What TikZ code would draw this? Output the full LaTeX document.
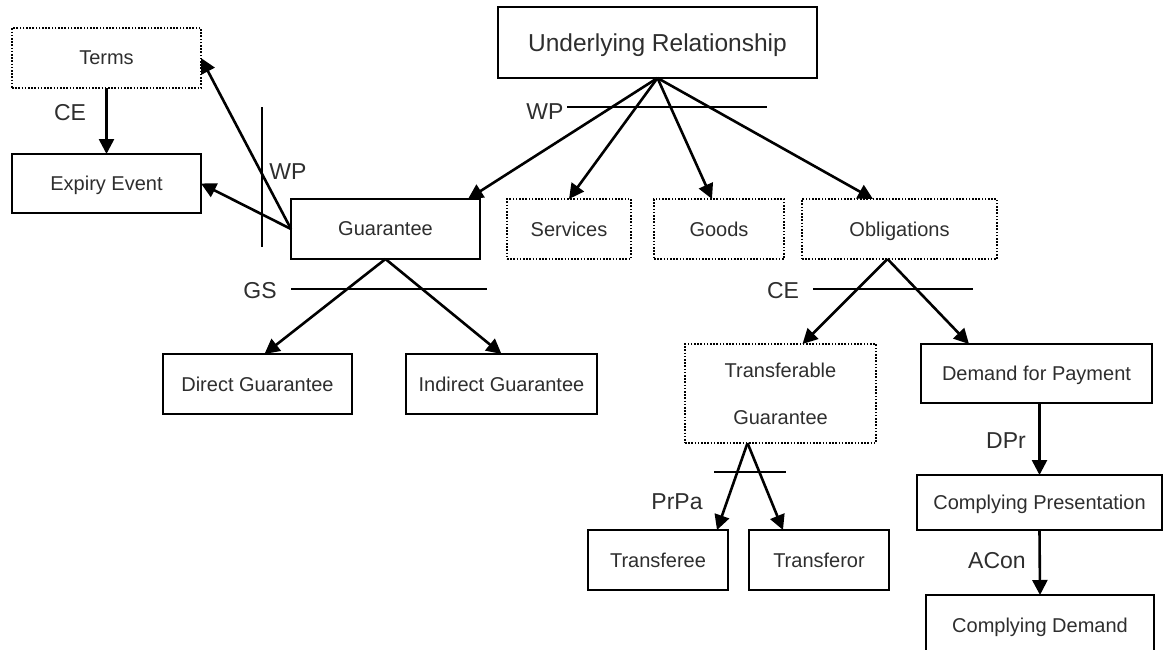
\documentclass[tikz,border=0pt]{standalone}
\usepackage{fontspec}
\setmainfont{Liberation Sans}
\usetikzlibrary{arrows.meta,calc}
\definecolor{txt}{gray}{0.18}
\tikzset{
  box/.style={draw=black, line width=1.8pt, inner sep=0pt, outer sep=0pt,
    text=txt, font=\fontsize{20}{24}\selectfont, align=center, text depth=0pt},
  dotbox/.style={box, line width=1.8pt, dash pattern=on 1.6pt off 1.6pt},
  arr/.style={draw=black, line width=2.6pt, -{Triangle[length=15pt,width=15pt]}},
  bar/.style={draw=black, line width=1.8pt},
  lbl/.style={text=txt, inner sep=0pt, text depth=0pt, font=\fontsize{23}{26}\selectfont}
}
\begin{document}
\begin{tikzpicture}[x=1pt,y=-1pt]
\useasboundingbox (0,0) rectangle (1163,649);
\clip (0,0) rectangle (1163,649);
\fill[white] (0,0) rectangle (1163,649);

% boxes
\node[dotbox, minimum width=189pt, minimum height=60pt] (t) at (106.5,58) {Terms};
\node[box, minimum width=189pt, minimum height=59pt] (ex) at (106.5,183.5) {Expiry Event};
\node[box, minimum width=189pt, minimum height=60pt] (g) at (385.5,229) {Guarantee};
\node[box, minimum width=319pt, minimum height=71pt, font=\fontsize{24.5}{28}\selectfont] (ur) at (657.5,42.5) {Underlying Relationship};
\node[dotbox, minimum width=124pt, minimum height=60pt] (sv) at (569,229) {Services};
\node[dotbox, minimum width=130pt, minimum height=60pt] (gd) at (719,229) {Goods};
\node[dotbox, minimum width=195pt, minimum height=60pt] (ob) at (899.5,229) {Obligations};
\node[box, minimum width=189pt, minimum height=60pt] (dg) at (257.5,384) {Direct Guarantee};
\node[box, minimum width=191pt, minimum height=60pt] (ig) at (501.5,384) {Indirect Guarantee};
\node[dotbox, minimum width=191pt, minimum height=99pt,
      font=\fontsize{20}{47}\selectfont] (tg) at (780.5,393.5) {Transferable\\Guarantee};
\node[box, minimum width=231pt, minimum height=59pt] (dp) at (1036.5,373.5) {Demand for Payment};
\node[box, minimum width=245pt, minimum height=55pt] (cp) at (1039.5,502.5) {Complying Presentation};
\node[box, minimum width=140pt, minimum height=60pt] (te) at (658,560) {Transferee};
\node[box, minimum width=140pt, minimum height=60pt] (tr) at (819,560) {Transferor};
\node[box, minimum width=228pt, minimum height=60pt] (cd) at (1040,625) {Complying Demand};

% crossing bars
\draw[bar] (262,107) -- (262,247);
\draw[bar] (567,107) -- (767,107);
\draw[bar] (291,289) -- (487,289);
\draw[bar] (813,289) -- (973,289);
\draw[bar] (714,472) -- (786,472);

% connectors
\draw[arr] (t.south) -- (ex.north);
\draw[arr] (g.west) -- (t.east);
\draw[arr] (g.west) -- (ex.east);
\draw[arr] (ur.south) -- ($(g.north east)+(-12,0)$);
\draw[arr] (ur.south) -- (sv.north);
\draw[arr] (ur.south) -- ($(gd.north)+(-7,0)$);
\draw[arr] (ur.south) -- ($(ob.north west)+(71,0)$);
\draw[arr] (g.south) -- ($(dg.north)+(7,0)$);
\draw[arr] (g.south) -- (ig.north);
\draw[arr] ($(ob.south)+(-12,0)$) -- ($(tg.north)+(22,0)$);
\draw[arr] ($(ob.south)+(-12,0)$) -- ($(dp.north west)+(48,0)$);
\draw[arr] ($(tg.south)+(-33,0)$) -- ($(te.north east)+(-11,0)$);
\draw[arr] ($(tg.south)+(-33,0)$) -- ($(tr.north west)+(34,0)$);
\draw[arr] (cp.north |- dp.south) -- (cp.north);
\draw[arr] (cp.south) -- (cd.north);

% labels
\node[lbl] (lce1) at (70,112) {CE};
\node[lbl] (lwp1) at (288,172) {WP};
\node[lbl] (lwp2) at (545,112) {WP};
\node[lbl] (lgs) at (260,290) {GS};
\node[lbl] (lce2) at (783,290) {CE};
\node[lbl] (lpp) at (677,502) {PrPa};
\node[lbl] (ldp) at (1006,441) {DPr};
\node[lbl] (lac) at (997,560) {ACon};
\end{tikzpicture}
\end{document}
